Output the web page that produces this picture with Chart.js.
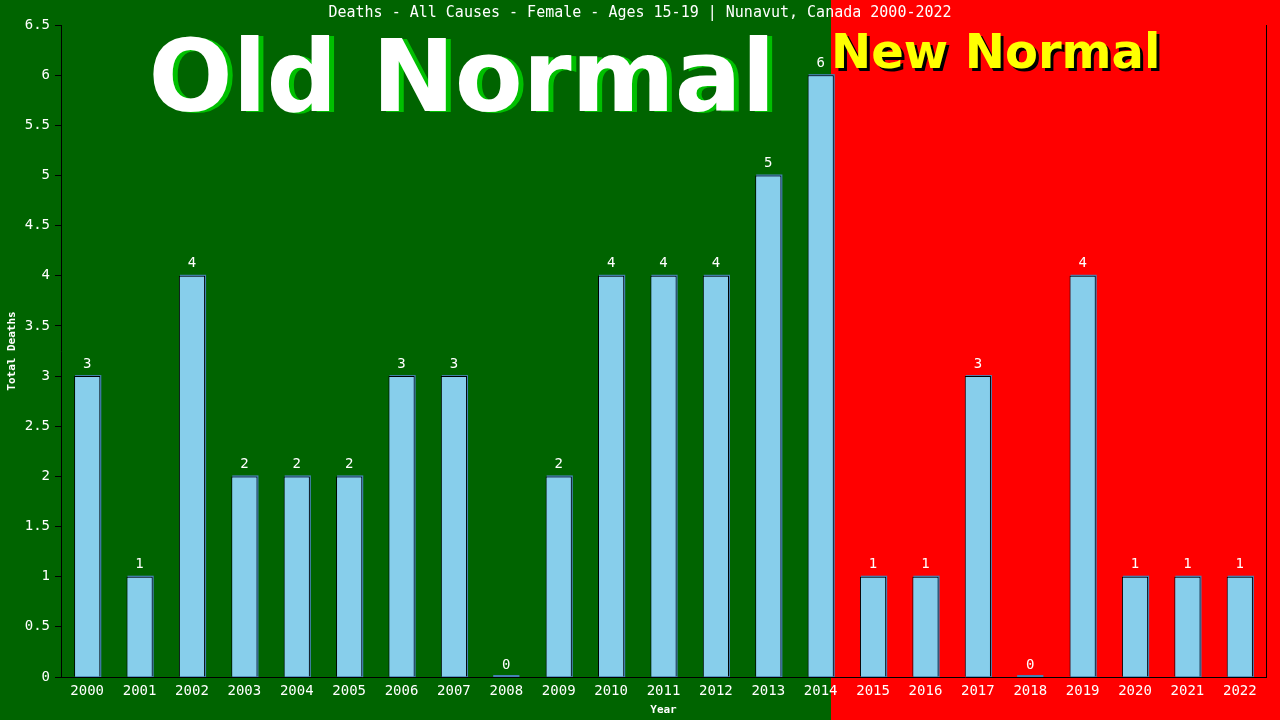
<!DOCTYPE html>
<html lang="en">
<head>
    <meta charset="UTF-8">
    <title>Deaths - All Causes - Female - Ages 15-19 | Nunavut, Canada 2000-2022</title>
    <script src="https://cdn.jsdelivr.net/npm/chart.js"></script>
    <style>
        html, body {
            margin: 0;
            padding: 0;
            background-color: #006400;
        }
        #wrap {
            width: 1280px;
            height: 720px;
        }
    </style>
</head>
<body>
    <div id="wrap"><canvas id="deathsChart" width="1280" height="720"></canvas></div>
    <script>
        const years = ['2000', '2001', '2002', '2003', '2004', '2005', '2006', '2007', '2008', '2009', '2010', '2011',
            '2012', '2013', '2014', '2015', '2016', '2017', '2018', '2019', '2020', '2021', '2022'];
        const deaths = [3, 1, 4, 2, 2, 2, 3, 3, 0, 2, 4, 4, 4, 5, 6, 1, 1, 3, 0, 4, 1, 1, 1];
        const yMin = 0;
        const yMax = 6.5;
        const yStep = 0.5;
        const lastOldIndex = 14; // 2014 is the last "old normal" year

        const chartTitle = 'Deaths - All Causes - Female - Ages 15-19 | Nunavut, Canada 2000-2022';
        const mono = '"DejaVu Sans Mono", "Liberation Mono", monospace';

        // green / red halves, big captions and the title
        const backdrop = {
            id: 'backdrop',
            beforeDraw(chart) {
                const ctx = chart.ctx;
                const bar = chart.getDatasetMeta(0).data[lastOldIndex];
                const split = Math.round(bar.x + bar.width / 2 - 3);
                ctx.save();
                ctx.fillStyle = '#006400';
                ctx.fillRect(0, 0, split, chart.height);
                ctx.fillStyle = '#ff0000';
                ctx.fillRect(split, 0, chart.width - split, chart.height);

                ctx.font = 'bold 99px "DejaVu Sans", Verdana, sans-serif';
                ctx.textAlign = 'center';
                ctx.textBaseline = 'alphabetic';
                ctx.fillStyle = '#00c000';
                ctx.fillText('Old Normal', 467, 112);
                ctx.fillStyle = '#ffffff';
                ctx.fillText('Old Normal', 462, 111);

                ctx.font = 'bold 48px "DejaVu Sans", Verdana, sans-serif';
                ctx.textAlign = 'left';
                ctx.fillStyle = '#000000';
                ctx.fillText('New Normal', split + 3, 71);
                ctx.fillStyle = '#ffff00';
                ctx.fillText('New Normal', split, 68);

                ctx.font = '15px ' + mono;
                ctx.textAlign = 'center';
                ctx.textBaseline = 'middle';
                ctx.fillStyle = '#ffffff';
                ctx.fillText(chartTitle, 640, 13);

                // right frame line
                const area = chart.chartArea;
                ctx.strokeStyle = '#000000';
                ctx.lineWidth = 1;
                ctx.beginPath();
                ctx.moveTo(area.right + 0.5, area.top);
                ctx.lineTo(area.right + 0.5, area.bottom);
                ctx.stroke();
                ctx.restore();
            }
        };

        // thin steel blue outline offset up-right behind every bar
        const barShadow = {
            id: 'barShadow',
            beforeDatasetsDraw(chart) {
                const ctx = chart.ctx;
                const bottom = chart.scales.y.getPixelForValue(0);
                ctx.save();
                ctx.fillStyle = '#4682b4';
                chart.getDatasetMeta(0).data.forEach((bar, i) => {
                    const left = bar.x - bar.width / 2;
                    if (deaths[i] === 0) {
                        ctx.fillRect(left, bottom - 2, bar.width, 2);
                    } else {
                        ctx.fillRect(left + 1, bar.y - 1, bar.width, bottom - bar.y + 1);
                    }
                });
                ctx.restore();
            }
        };

        const valueLabels = {
            id: 'valueLabels',
            afterDatasetsDraw(chart) {
                const ctx = chart.ctx;
                ctx.save();
                ctx.font = '14px ' + mono;
                ctx.fillStyle = '#ffffff';
                ctx.textAlign = 'center';
                ctx.textBaseline = 'bottom';
                chart.getDatasetMeta(0).data.forEach((bar, i) => {
                    ctx.fillText(String(deaths[i]), bar.x, bar.y - 5);
                });
                ctx.restore();
            }
        };

        document.addEventListener('DOMContentLoaded', function () {
            const ctx = document.getElementById('deathsChart').getContext('2d');
            new Chart(ctx, {
                type: 'bar',
                data: {
                    labels: years,
                    datasets: [{
                        label: 'Total Deaths',
                        data: deaths,
                        backgroundColor: '#87ceeb',
                        borderColor: '#000000',
                        borderWidth: 1,
                        borderSkipped: 'bottom',
                        barPercentage: 0.5,
                        categoryPercentage: 1.0
                    }]
                },
                options: {
                    responsive: false,
                    animation: false,
                    devicePixelRatio: 1,
                    layout: {
                        padding: { top: 25, right: 14, bottom: 0, left: 0 }
                    },
                    plugins: {
                        legend: { display: false },
                        title: { display: false },
                        tooltip: { enabled: false }
                    },
                    scales: {
                        x: {
                            afterFit(scale) { scale.height = 43; },
                            grid: { display: false },
                            border: { display: true, color: '#000000', width: 1 },
                            ticks: {
                                color: '#ffffff',
                                font: { family: mono, size: 14 },
                                padding: -2,
                                maxRotation: 0,
                                autoSkip: false
                            },
                            title: {
                                display: true,
                                text: 'Year',
                                color: '#ffffff',
                                font: { family: mono, size: 11, weight: 'bold' },
                                padding: { top: 0, bottom: 3 }
                            }
                        },
                        y: {
                            min: yMin,
                            max: yMax,
                            afterFit(scale) { scale.width = 61; },
                            grid: {
                                drawOnChartArea: false,
                                drawTicks: true,
                                tickLength: 6,
                                color: '#000000'
                            },
                            border: { display: true, color: '#000000', width: 1 },
                            ticks: {
                                stepSize: yStep,
                                color: '#ffffff',
                                font: { family: mono, size: 14 },
                                padding: 5,
                                callback: value => String(value)
                            },
                            title: {
                                display: true,
                                text: 'Total Deaths',
                                color: '#ffffff',
                                font: { family: mono, size: 11, weight: 'bold' },
                                padding: { top: 6, bottom: 0 }
                            }
                        }
                    }
                },
                plugins: [backdrop, barShadow, valueLabels]
            });
        });
    </script>
</body>
</html>
